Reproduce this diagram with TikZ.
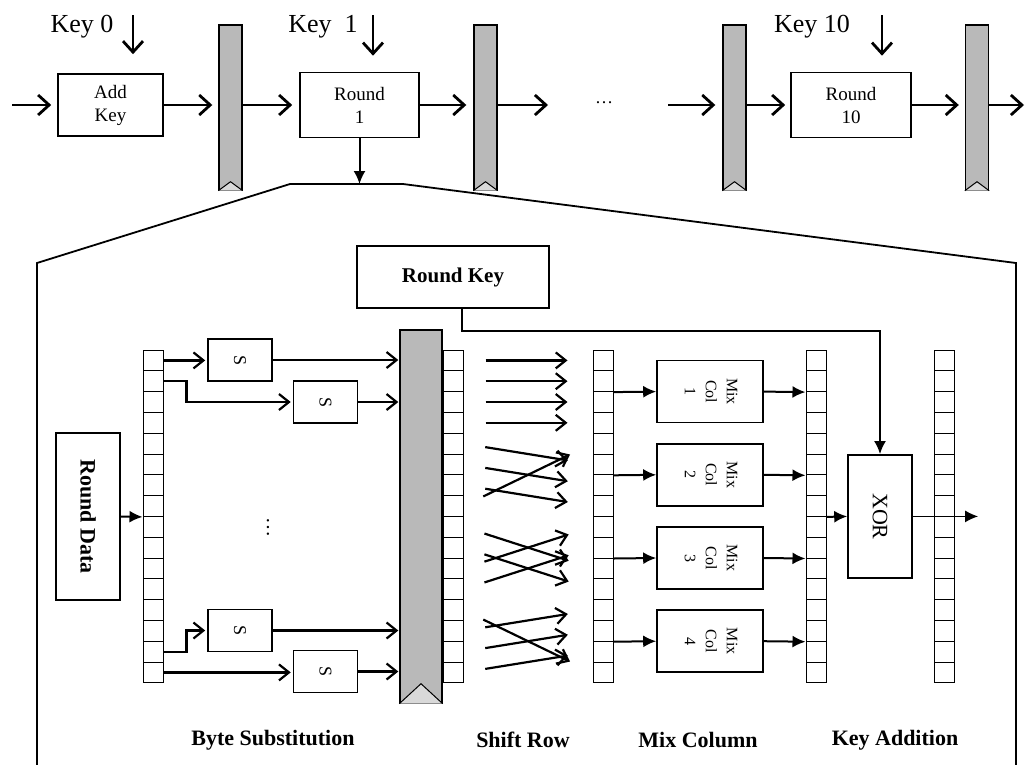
\documentclass[tikz,border=0pt]{standalone}
\usepackage{fontspec}
\setmainfont{Liberation Serif}
\usetikzlibrary{arrows.meta}

\newcommand{\vlabel}[1]{\rotatebox{-90}{\begin{tabular}{@{}c@{}}#1\end{tabular}}}

\begin{document}
\begin{tikzpicture}[x=1pt,y=-1pt,every node/.style={inner sep=1pt}]
\tikzstyle{box}=[draw,line width=1.6pt,fill=white,align=center,font=\fontsize{19}{23}\selectfont]
\tikzstyle{bar}=[draw,line width=1.4pt,fill=gray!55,minimum width=23pt,minimum height=165pt,inner sep=0pt]
\tikzstyle{cell}=[draw,line width=1pt,fill=white,minimum width=20pt,minimum height=20.8pt,inner sep=0pt]
\tikzstyle{sbox}=[draw,line width=1.6pt,minimum width=64pt,minimum height=42pt,font=\fontsize{18}{20}\selectfont]
\tikzstyle{keytext}=[font=\fontsize{26}{30}\selectfont]
\tikzstyle{stage}=[font=\bfseries\fontsize{22}{26}\selectfont]
\tikzstyle{openarrow}=[draw,line width=2.8pt,-{Straight Barb[length=11pt,width=20pt]}]
\tikzstyle{sarrow}=[draw,line width=2.2pt,-{Straight Barb[length=10pt,width=16pt]}]
\tikzstyle{fillarrow}=[draw,line width=2pt,-{Latex[length=13pt,width=12pt]}]
\useasboundingbox (0,0) rectangle (1025,764);

% top row of rounds
\node[box,minimum width=105pt,minimum height=62pt](addkey) at (110.5,105){Add\\Key};
\node[box,minimum width=119pt,minimum height=65pt](round1) at (359.5,105){Round\\1};
\node[box,minimum width=120pt,minimum height=65pt](round10) at (851,105){Round\\10};
\foreach \n/\x in {bar1/230.5,bar2/485.5,bar3/734.5,bar4/977}{
  \node[bar](\n) at (\x,107.5){};
  \draw[line width=1pt,fill=gray!30](\n.south west)--([yshift=9pt]\n.south)--(\n.south east);
}
\node[keytext](key0) at (82,27){Key 0};
\node[keytext](key1) at (323,27){Key\ \ 1};
\node[keytext](key10) at (812,27){Key 10};
\coordinate(k0top) at (133,15);
\coordinate(k1top) at (373,15);
\coordinate(k10top) at (882,15);
\path[openarrow,shorten >=19pt](k0top)--(k0top |- addkey.north);
\path[openarrow,shorten >=16pt](k1top)--(k1top |- round1.north);
\path[openarrow,shorten >=16pt](k10top)--(k10top |- round10.north);

\node[font=\fontsize{18}{20}\selectfont](dots) at (604,103){\dots};
\coordinate(in) at (12,105);
\coordinate(gapL) at (548,105);
\coordinate(gapR) at (668,105);
\coordinate(out) at (1024,105);
\path[openarrow,shorten >=6pt](in)--(addkey.west);
\path[openarrow,shorten >=6pt](addkey.east)--(bar1.west |- addkey.east);
\path[openarrow,shorten >=7pt](bar1.east |- round1.west)--(round1.west);
\path[openarrow,shorten >=7pt](round1.east)--(bar2.west |- round1.east);
\path[openarrow](bar2.east |- gapL)--(gapL);
\path[openarrow,shorten >=7pt](gapR)--(bar3.west |- gapR);
\path[openarrow,shorten >=5pt](bar3.east |- round10.west)--(round10.west);
\path[openarrow,shorten >=6pt](round10.east)--(bar4.west |- round10.east);
\path[openarrow](bar4.east |- out)--(out);

% zoom into round 1
\coordinate(zoomtop) at (359.5,184);
\path[fillarrow](round1.south)--(zoomtop);
\draw[line width=1.8pt](37,770)--(37,263)--(290,184)--(403,184)--(1016,263)--(1016,770);

\node[box,font=\bfseries\fontsize{21}{24}\selectfont,minimum width=192pt,minimum height=62pt](rkey) at (453,277){Round Key};
\node[box,font=\bfseries\fontsize{22}{26}\selectfont,minimum width=64pt,minimum height=167pt](rdata) at (88,516.5){\rotatebox{-90}{Round Data}};

% state registers
\node[draw,line width=1.4pt,fill=gray!55,minimum width=42pt,minimum height=373pt,inner sep=0pt](sbar) at (421,516.5){};
\draw[line width=1pt,fill=gray!30](sbar.south west)--([yshift=20pt]sbar.south)--(sbar.south east);
\foreach \r/\x in {ra/153,rb/453,rc/603,rd/816,re/944}
  \foreach \i in {0,...,15}
    \node[cell](\r-\i) at (\x,{360.4+20.8*\i}){};

\path[fillarrow](rdata.east)--(ra-7.south west);

% byte substitution
\node[sbox](s1) at (240,360){\rotatebox{-90}{S}};
\node[sbox](s2) at (325.5,402){\rotatebox{-90}{S}};
\node[sbox](s3) at (240,630.5){\rotatebox{-90}{S}};
\node[sbox](s4) at (325.5,671.5){\rotatebox{-90}{S}};
\node[font=\fontsize{20}{22}\selectfont](vdots) at (268,527){\rotatebox{-90}{\dots}};
\path[sarrow,shorten >=2pt](ra-0.east)--(ra-0.east -| s1.west);
\path[sarrow,shorten >=2pt](ra-1.east)-- ++(23,0) |- (s2.west);
\path[sarrow,shorten >=2pt](ra-14.east)-- ++(23,0) |- (s3.west);
\path[sarrow,shorten >=2pt](ra-15.east)--(ra-15.east -| s4.west);
\foreach \s in {s1,s2,s3,s4}
  \path[sarrow,shorten >=1pt](\s.east)--(\s.east -| sbar.west);

% shift row
\foreach \k in {0,...,3}
  \foreach \j in {0,...,3}{
    \pgfmathtruncatemacro\src{4*\k+\j}
    \pgfmathtruncatemacro\dst{4*\k+mod(\j+\k,4)}
    \path[sarrow,shorten <=22pt,shorten >=25pt](rb-\src.east)--(rc-\dst.west);
  }

% mix column
\foreach \m in {1,...,4}{
  \pgfmathsetmacro\ym{350+(4*\m-2)*20.8}
  \pgfmathtruncatemacro\r{4*\m-3}
  \node[box,minimum width=106pt,minimum height=62pt,font=\fontsize{16}{21}\selectfont](mix\m) at (710,\ym){\vlabel{Mix\\Col\\\m}};
  \path[fillarrow](rc-\r.south east)--(mix\m.west);
  \path[fillarrow](mix\m.east)--(rd-\r.south west);
}

% key addition
\node[box,minimum width=64pt,minimum height=123pt,font=\fontsize{22}{26}\selectfont](xor) at (880,516.4){\rotatebox{-90}{XOR}};
\path[fillarrow](rd-7.south east)--(xor.west);
\path[fillarrow]([xshift=9pt]rkey.south)-- ++(0,22) -| (xor.north);
\coordinate(result) at (978,516.4);
\path[draw,line width=1pt,-{Latex[length=13pt,width=12pt]}](xor.east)--(result);

% stage captions
\node[stage](bytesub) at (273,740){Byte Substitution};
\node[stage](shiftrow) at (523,740){Shift Row};
\node[stage](mixcol) at (698,740){Mix Column};
\node[stage](keyadd) at (895,740){Key Addition};
\end{tikzpicture}
\end{document}
